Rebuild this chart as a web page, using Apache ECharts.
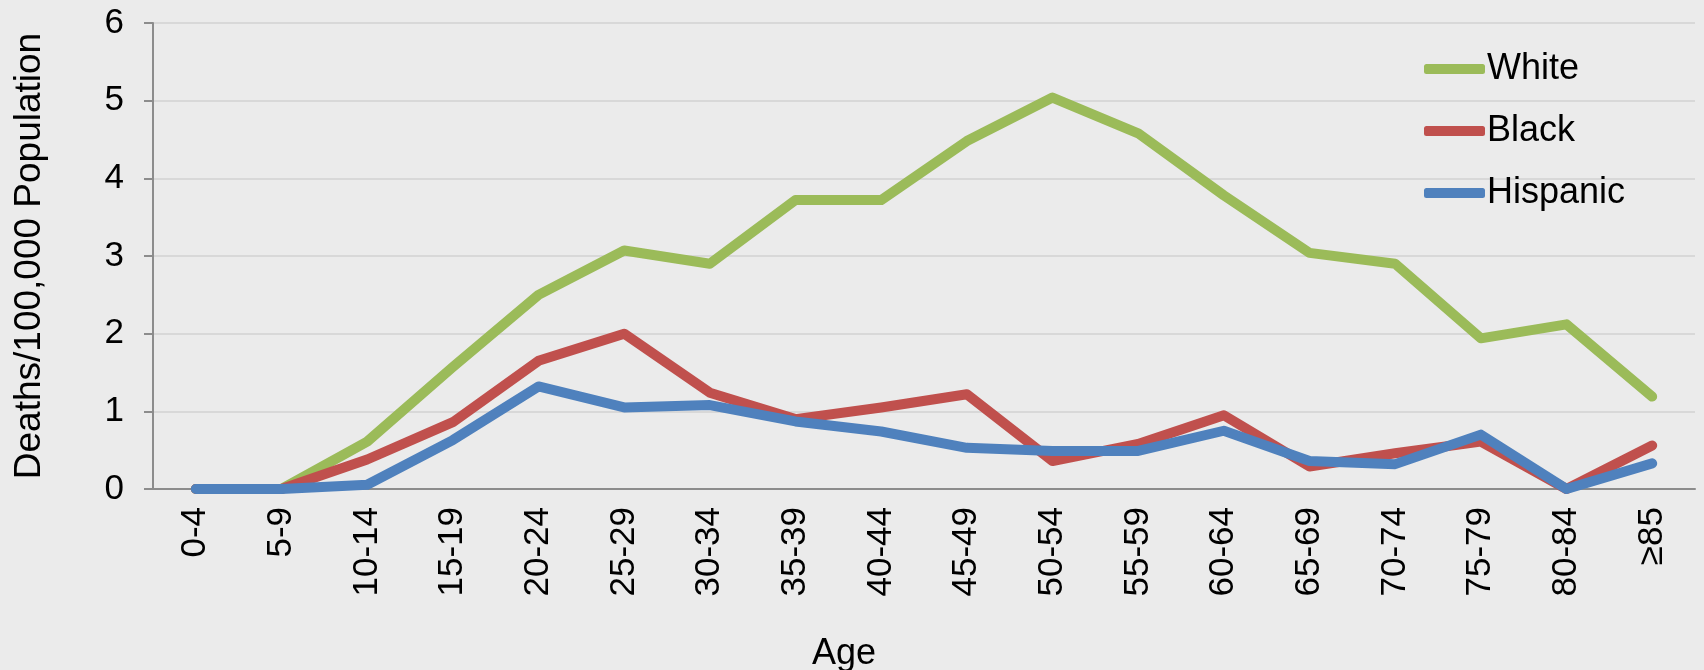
<!DOCTYPE html>
<html>
<head>
<meta charset="utf-8">
<script src="https://cdn.jsdelivr.net/npm/echarts@6/dist/echarts.min.js"></script>
<style>
  html, body { margin: 0; padding: 0; background: #ebebeb; }
  #chart { width: 1704px; height: 670px; }
</style>
</head>
<body>
<div id="chart"></div>
<script>
const ages = ['0-4', '5-9', '10-14', '15-19', '20-24', '25-29', '30-34', '35-39', '40-44',
  '45-49', '50-54', '55-59', '60-64', '65-69', '70-74', '75-79', '80-84', '≥85'];
const white = [0, 0, 0.61, 1.57, 2.5, 3.07, 2.9, 3.72, 3.72, 4.48, 5.04, 4.58, 3.78, 3.04, 2.9, 1.94, 2.12, 1.19];
const black = [0, 0, 0.38, 0.86, 1.65, 2.0, 1.24, 0.9, 1.05, 1.22, 0.36, 0.58, 0.95, 0.29, 0.46, 0.61, 0, 0.56];
const hispanic = [0, 0, 0.055, 0.63, 1.32, 1.05, 1.08, 0.87, 0.74, 0.53, 0.49, 0.49, 0.75, 0.36, 0.32, 0.7, 0, 0.33];

const font = 'Liberation Sans, Arial, sans-serif';
let chart = echarts.init(document.getElementById('chart'));

function line(name, data, color) {
  return {
    name: name,
    type: 'line',
    data: data,
    symbol: 'none',
    lineStyle: { width: 10, color: color, cap: 'round', join: 'round' },
    itemStyle: { color: color }
  };
}

chart.setOption({
  backgroundColor: '#ebebeb',
  animation: false,
  textStyle: { fontFamily: font },
  grid: { left: 153, right: 9, top: 23, bottom: 181, containLabel: false, outerBoundsMode: 'none' },
  legend: {
    orient: 'vertical',
    left: 1424,
    top: 49,
    padding: 0,
    itemWidth: 61,
    itemHeight: 10,
    itemGap: 22,
    icon: 'roundRect',
    textStyle: { fontSize: 36, color: '#000', fontFamily: font, lineHeight: 40, padding: [0, 0, 0, -3] },
    data: ['White', 'Black', 'Hispanic']
  },
  xAxis: {
    type: 'category',
    data: ages,
    name: 'Age',
    nameLocation: 'middle',
    nameGap: 147,
    nameTextStyle: { fontSize: 36, color: '#000', padding: [0, 160, 0, 0] },
    axisLine: { lineStyle: { color: '#8c8c8c', width: 2 } },
    axisTick: { length: 9, lineStyle: { color: '#8c8c8c', width: 2 } },
    axisLabel: { rotate: 90, fontSize: 35, color: '#000', margin: 18 }
  },
  yAxis: {
    type: 'value',
    min: 0,
    max: 6,
    interval: 1,
    name: 'Deaths/100,000 Population',
    nameLocation: 'middle',
    nameGap: 105,
    nameTextStyle: { fontSize: 37, color: '#000' },
    axisLine: { show: true, lineStyle: { color: '#8c8c8c', width: 2 } },
    axisTick: { show: true, length: 9, lineStyle: { color: '#8c8c8c', width: 2 } },
    axisLabel: { fontSize: 35, color: '#000', margin: 29 },
    splitLine: { lineStyle: { color: '#d8d8d8', width: 2 } }
  },
  series: [
    line('White', white, '#9bbb59'),
    line('Black', black, '#c0504d'),
    line('Hispanic', hispanic, '#4f81bd')
  ]
});
</script>
</body>
</html>
